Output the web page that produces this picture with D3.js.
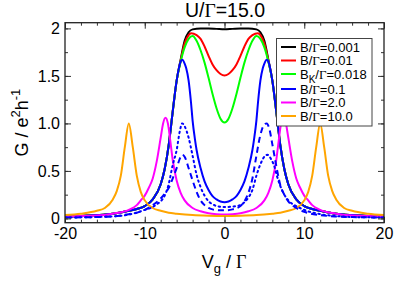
<!DOCTYPE html>
<html>
<head>
<meta charset="utf-8">
<script src="https://d3js.org/d3.v7.min.js"></script>
<style>
  body { margin: 0; background: #fff; }
  svg { font-family: "Liberation Sans", Arial, sans-serif; }
  .gam { font-family: "Liberation Serif", "Times New Roman", serif; }
</style>
</head>
<body>
<div id="chart"></div>
<script>
// conductance vs gate voltage: [Vg/Gamma, G]
var curveB0001 = [[-20,0.02],[-18,0.025],[-16,0.035],[-14,0.05],[-12,0.08],[-11,0.1],[-10,0.13],[-9,0.2],[-8,0.36],[-7.5,0.52],[-7,0.77],[-6.5,1.12],[-6,1.45],[-5.5,1.67],[-5,1.87],[-4.5,1.96],[-4,1.99],[-3,2.0],[-2,2.0],[-1,1.995],[0,1.99],
  [1,1.995],[2,2.0],[3,2.0],[4,1.99],[4.5,1.96],[5,1.87],[5.5,1.67],[6,1.45],[6.5,1.12],[7,0.77],[7.5,0.52],[8,0.36],[9,0.2],[10,0.13],[11,0.1],[12,0.08],[14,0.05],[16,0.035],[18,0.025],[20,0.02]];

var curveB001 = [[-20,0.02],[-18,0.025],[-16,0.035],[-14,0.05],[-12,0.08],[-11,0.1],[-10,0.13],[-9,0.2],[-8,0.36],[-7.5,0.52],[-7,0.77],[-6.5,1.12],[-6,1.45],[-5.5,1.66],[-5,1.84],[-4.5,1.93],[-4.2,1.95],[-3.5,1.93],[-3,1.89],[-2.5,1.81],[-2,1.71],[-1.5,1.62],[-1,1.56],[-0.5,1.52],[0,1.505],
  [0.5,1.52],[1,1.56],[1.5,1.62],[2,1.71],[2.5,1.81],[3,1.89],[3.5,1.93],[4.2,1.95],[4.5,1.93],[5,1.84],[5.5,1.66],[6,1.45],[6.5,1.12],[7,0.77],[7.5,0.52],[8,0.36],[9,0.2],[10,0.13],[11,0.1],[12,0.08],[14,0.05],[16,0.035],[18,0.025],[20,0.02]];

var curveBK = [[-20,0.02],[-18,0.025],[-16,0.035],[-14,0.05],[-12,0.08],[-11,0.1],[-10,0.13],[-9,0.2],[-8,0.36],[-7.5,0.52],[-7,0.77],[-6.5,1.12],[-6,1.45],[-5.5,1.65],[-5,1.8],[-4.5,1.89],[-4,1.92],[-3.5,1.87],[-3,1.77],[-2.5,1.64],[-2,1.48],[-1.5,1.31],[-1,1.16],[-0.5,1.05],[0,1.01],
  [0.5,1.05],[1,1.16],[1.5,1.31],[2,1.48],[2.5,1.64],[3,1.77],[3.5,1.87],[4,1.92],[4.5,1.89],[5,1.8],[5.5,1.65],[6,1.45],[6.5,1.12],[7,0.77],[7.5,0.52],[8,0.36],[9,0.2],[10,0.13],[11,0.1],[12,0.08],[14,0.05],[16,0.035],[18,0.025],[20,0.02]];

var curveB01 = [[-20,0.02],[-18,0.025],[-16,0.035],[-14,0.05],[-12,0.08],[-11,0.1],[-10,0.13],[-9,0.2],[-8,0.36],[-7.5,0.52],[-7,0.77],[-6.5,1.12],[-6,1.45],[-5.5,1.65],[-5.3,1.67],[-5,1.63],[-4.8,1.58],[-4.5,1.45],[-4.2,1.22],[-4,1.03],[-3.7,0.83],[-3.5,0.72],[-3,0.53],[-2.5,0.39],[-2,0.3],[-1.5,0.235],[-1,0.2],[-0.5,0.178],[0,0.17],
  [0.5,0.178],[1,0.2],[1.5,0.235],[2,0.3],[2.5,0.39],[3,0.53],[3.5,0.72],[3.7,0.83],[4,1.03],[4.2,1.22],[4.5,1.45],[4.8,1.58],[5,1.63],[5.3,1.67],[5.5,1.65],[6,1.45],[6.5,1.12],[7,0.77],[7.5,0.52],[8,0.36],[9,0.2],[10,0.13],[11,0.1],[12,0.08],[14,0.05],[16,0.035],[18,0.025],[20,0.02]];

var curveB01dash = [[-20,0.01],[-16,0.015],[-14,0.022],[-12,0.045],[-11,0.06],[-10,0.09],[-9,0.14],[-8,0.21],[-7.5,0.26],[-7,0.32],[-6.5,0.42],[-6,0.53],[-5.6,0.63],[-5.3,0.67],[-5,0.65],[-4.5,0.53],[-4,0.4],[-3.5,0.28],[-3,0.19],[-2.5,0.14],[-2,0.11],[-1.5,0.095],[-1,0.088],[0,0.085],
  [1,0.095],[2,0.13],[2.5,0.18],[3,0.27],[3.5,0.42],[4,0.66],[4.5,0.88],[5,0.99],[5.3,1.0],[5.6,0.95],[6,0.78],[6.5,0.55],[7,0.35],[7.5,0.25],[8,0.18],[9,0.11],[10,0.07],[12,0.035],[14,0.02],[16,0.014],[20,0.01]];

var curveB01dot = [[-20,0.01],[-16,0.015],[-14,0.022],[-12,0.04],[-10,0.09],[-9,0.12],[-8.5,0.15],[-8,0.18],[-7.5,0.24],[-7,0.36],[-6.5,0.56],[-6,0.72],[-5.6,0.92],[-5.3,1.0],[-5,0.97],[-4.5,0.85],[-4,0.66],[-3.5,0.46],[-3,0.33],[-2.5,0.24],[-2,0.18],[-1.5,0.15],[-1,0.13],[0,0.12],
  [1,0.125],[2,0.14],[2.5,0.17],[3,0.22],[3.5,0.3],[4,0.45],[4.5,0.57],[5,0.65],[5.4,0.67],[5.8,0.63],[6.2,0.56],[6.6,0.44],[7,0.34],[7.5,0.25],[8,0.19],[9,0.13],[10,0.09],[12,0.045],[14,0.025],[16,0.015],[20,0.01]];

var curveB2 = [[-20,0.02],[-16,0.03],[-14,0.05],[-12,0.09],[-11,0.14],[-10.5,0.19],[-10,0.24],[-9.5,0.32],[-9,0.42],[-8.5,0.6],[-8,0.85],[-7.7,1.0],[-7.4,1.06],[-7.1,1.0],[-6.8,0.82],[-6.5,0.62],[-6,0.4],[-5.5,0.27],[-5,0.19],[-4,0.11],[-3,0.075],[-2,0.055],[-1,0.045],[0,0.04],
  [1,0.045],[2,0.055],[3,0.075],[4,0.11],[5,0.19],[5.5,0.27],[6,0.4],[6.5,0.62],[6.8,0.82],[7.1,1.0],[7.4,1.06],[7.7,1.0],[8,0.85],[8.5,0.6],[9,0.42],[9.5,0.32],[10,0.24],[10.5,0.19],[11,0.14],[12,0.09],[14,0.05],[16,0.03],[20,0.02]];

var curveB10 = [[-20,0.035],[-18,0.05],[-16,0.08],[-15,0.11],[-14,0.2],[-13.5,0.29],[-13,0.45],[-12.5,0.75],[-12,1.0],[-11.5,0.75],[-11,0.45],[-10.5,0.28],[-10,0.19],[-9,0.11],[-8,0.08],[-7,0.06],[-6,0.05],[-4,0.035],[-2,0.028],[0,0.025],
  [2,0.028],[4,0.035],[6,0.05],[7,0.06],[8,0.08],[9,0.11],[10,0.19],[10.5,0.28],[11,0.45],[11.5,0.75],[12,1.0],[12.5,0.75],[13,0.45],[13.5,0.29],[14,0.2],[15,0.11],[16,0.08],[18,0.05],[20,0.035]];

var xTicks = [-20, -10, 0, 10, 20];
var xTickLabels = ["-20", "-10", "0", "10", "20"];
var yTicks = [0, 0.5, 1.0, 1.5, 2];
var yTickLabels = ["0", "0.5", "1.0", "1.5", "2"];

var series = [
  { data: curveB0001, color: "#000000", dash: null, label: ["B/", "=0.001"] },
  { data: curveB001, color: "#ff0000", dash: null, label: ["B/", "=0.01"] },
  { data: curveBK, color: "#00ff00", dash: null, label: ["B", "/", "=0.018"], sub: true },
  { data: curveB01, color: "#0000ff", dash: null, label: ["B/", "=0.1"] },
  { data: curveB2, color: "#ff00ff", dash: null, label: ["B/", "=2.0"] },
  { data: curveB10, color: "#ffa500", dash: null, label: ["B/", "=10.0"] },
  { data: curveB01dash, color: "#0000ff", dash: "6,4", label: null },
  { data: curveB01dot, color: "#0000ff", dash: "1.5,3.5", label: null }
];

var width = 395, height = 284;
var pLeft = 65, pRight = 384, pTop = 22.7, pBottom = 222.7;

var svg = d3.select("#chart").append("svg")
  .attr("width", width)
  .attr("height", height);

var x = d3.scaleLinear().domain([-20, 20]).range([pLeft, pRight]);
var y = d3.scaleLinear().domain([-0.045, 2.06]).range([pBottom, pTop]);

// clip so curves stay in the frame
svg.append("clipPath").attr("id", "clip")
  .append("rect")
  .attr("x", pLeft).attr("y", pTop)
  .attr("width", pRight - pLeft).attr("height", pBottom - pTop);

var line = d3.line()
  .x(function (d) { return x(d[0]); })
  .y(function (d) { return y(d[1]); })
  .curve(d3.curveMonotoneX);

svg.append("g").attr("clip-path", "url(#clip)")
  .selectAll("path")
  .data(series)
  .enter()
  .append("path")
  .attr("d", function (d) { return line(d.data); })
  .attr("fill", "none")
  .attr("stroke", function (d) { return d.color; })
  .attr("stroke-width", 2)
  .attr("stroke-dasharray", function (d) { return d.dash; })
  .attr("stroke-linecap", function (d) { return d.dash && d.dash[0] === "1" ? "round" : "butt"; });

// axes: ticks inward on all four sides
function styleAxis(g) {
  g.select(".domain").remove();
  g.selectAll("line").attr("stroke", "#333").attr("stroke-width", 1);
  g.selectAll("text").attr("font-size", 16).attr("fill", "#000")
    .attr("font-family", "Liberation Sans, Arial, sans-serif");
}

var xMinor = d3.range(-20, 21, 2);
var yMinor = d3.range(0, 2.01, 0.25);

svg.append("g").attr("transform", "translate(0," + pBottom + ")")
  .call(d3.axisBottom(x).tickValues(xTicks).tickSize(-6).tickPadding(5)
    .tickFormat(function (d, i) { return xTickLabels[i]; }))
  .call(styleAxis);
svg.append("g").attr("transform", "translate(0," + pBottom + ")")
  .call(d3.axisBottom(x).tickValues(xMinor).tickSize(-3).tickFormat(""))
  .call(styleAxis);
svg.append("g").attr("transform", "translate(0," + pTop + ")")
  .call(d3.axisTop(x).tickValues(xTicks).tickSize(-6).tickFormat(""))
  .call(styleAxis);
svg.append("g").attr("transform", "translate(0," + pTop + ")")
  .call(d3.axisTop(x).tickValues(xMinor).tickSize(-3).tickFormat(""))
  .call(styleAxis);

svg.append("g").attr("transform", "translate(" + pLeft + ",0)")
  .call(d3.axisLeft(y).tickValues(yTicks).tickSize(-6).tickPadding(5)
    .tickFormat(function (d, i) { return yTickLabels[i]; }))
  .call(styleAxis);
svg.append("g").attr("transform", "translate(" + pLeft + ",0)")
  .call(d3.axisLeft(y).tickValues(yMinor).tickSize(-3).tickFormat(""))
  .call(styleAxis);
svg.append("g").attr("transform", "translate(" + pRight + ",0)")
  .call(d3.axisRight(y).tickValues(yTicks).tickSize(-6).tickFormat(""))
  .call(styleAxis);
svg.append("g").attr("transform", "translate(" + pRight + ",0)")
  .call(d3.axisRight(y).tickValues(yMinor).tickSize(-3).tickFormat(""))
  .call(styleAxis);

// frame
svg.append("rect")
  .attr("x", pLeft).attr("y", pTop)
  .attr("width", pRight - pLeft).attr("height", pBottom - pTop)
  .attr("fill", "none").attr("stroke", "#222").attr("stroke-width", 1.3);

// title
var title = svg.append("text")
  .attr("x", 225).attr("y", 17)
  .attr("text-anchor", "middle")
  .attr("font-size", 19.5);
title.append("tspan").text("U/");
title.append("tspan").attr("class", "gam").text("Γ");
title.append("tspan").text("=15.0");

// x label
var xl = svg.append("text")
  .attr("x", 224).attr("y", 268)
  .attr("text-anchor", "middle")
  .attr("font-size", 18);
xl.append("tspan").text("V");
xl.append("tspan").attr("font-size", 13).attr("dy", 5).text("g");
xl.append("tspan").attr("dy", -5).text(" / ");
xl.append("tspan").attr("class", "gam").text("Γ");

// y label
var yl = svg.append("text")
  .attr("transform", "translate(28," + ((pTop + pBottom) / 2) + ") rotate(-90)")
  .attr("text-anchor", "middle")
  .attr("font-size", 18);
yl.append("tspan").text("G / e");
yl.append("tspan").attr("font-size", 13).attr("dy", -8).text("2");
yl.append("tspan").attr("dy", 8).text("h");
yl.append("tspan").attr("font-size", 13).attr("dy", -8).text("-1");

// legend
var legendRows = [47, 60.5, 74, 89, 102.5, 116];
var legend = svg.append("g");
legend.append("rect")
  .attr("x", 276.5).attr("y", 38.5)
  .attr("width", 95.5).attr("height", 87.5)
  .attr("fill", "#fff").attr("stroke", "#444").attr("stroke-width", 1);

series.filter(function (s) { return s.label; }).forEach(function (s, i) {
  var ry = legendRows[i];
  legend.append("line")
    .attr("x1", 281).attr("x2", 296)
    .attr("y1", ry).attr("y2", ry)
    .attr("stroke", s.color).attr("stroke-width", 2);
  var t = legend.append("text")
    .attr("x", 300).attr("y", ry + 4.5)
    .attr("font-size", 13);
  if (s.sub) {
    t.append("tspan").text("B");
    t.append("tspan").attr("font-size", 10).attr("dy", 4).text("K");
    t.append("tspan").attr("dy", -4).text("/");
  } else {
    t.append("tspan").text(s.label[0]);
  }
  t.append("tspan").attr("class", "gam").text("Γ");
  t.append("tspan").text(s.label[s.label.length - 1]);
});
</script>
</body>
</html>
